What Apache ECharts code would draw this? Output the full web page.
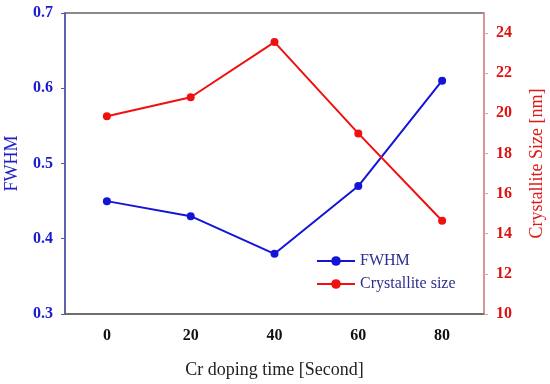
<!DOCTYPE html>
<html>
<head>
<meta charset="utf-8">
<script src="https://cdn.jsdelivr.net/npm/echarts@6/dist/echarts.min.js"></script>
<style>html,body{margin:0;padding:0;background:#fff}#c{width:550px;height:384px}</style>
</head>
<body>
<div id="c"></div>
<script>
var categories = ['0', '20', '40', '60', '80'];
var fwhm = [0.45, 0.43, 0.38, 0.47, 0.61];
var crystalliteSize = [19.85, 20.8, 23.55, 19.0, 14.65];
var leftTicks = [0.3, 0.7, 0.1];
var rightTicks = [10, 25, 2];

var serif = '"Liberation Serif", "DejaVu Serif", serif';
var chart = echarts.init(document.getElementById('c'), null, {renderer: 'canvas'});
chart.setOption({
  animation: false,
  backgroundColor: '#fff',
  grid: {left: 65, right: 66, top: 13, bottom: 70, show: true, borderColor: '#666', borderWidth: 1.5,
    backgroundColor: 'transparent', containLabel: false, outerBoundsMode: 'none'},
  legend: {
    orient: 'vertical', left: 311, top: 248, itemWidth: 38, itemHeight: 12, itemGap: 7,
    textStyle: {fontFamily: serif, fontSize: 16, color: '#2e2e90'},
    data: ['FWHM', 'Crystallite size']
  },
  xAxis: {
    type: 'category', data: categories, boundaryGap: true,
    name: 'Cr doping time [Second]', nameLocation: 'middle', nameGap: 47,
    nameTextStyle: {fontFamily: serif, fontSize: 18, color: '#222'},
    axisLine: {lineStyle: {color: '#666', width: 1.5}},
    axisTick: {alignWithLabel: true, length: 4, lineStyle: {color: '#666'}},
    axisLabel: {fontFamily: serif, fontSize: 16, fontWeight: 'bold', color: '#111', margin: 14},
    splitLine: {show: false}
  },
  yAxis: [{
    type: 'value', min: leftTicks[0], max: leftTicks[1], interval: leftTicks[2],
    name: 'FWHM', nameLocation: 'middle', nameGap: 44,
    nameTextStyle: {fontFamily: serif, fontSize: 18, color: '#2020c8'},
    axisLine: {show: true, lineStyle: {color: '#5555b5', width: 1.5}},
    axisTick: {show: true, length: 4, lineStyle: {color: '#5555b5'}},
    axisLabel: {fontFamily: serif, fontSize: 16, fontWeight: 'bold', color: '#1a1ad0', margin: 12,
      formatter: function (v) { return v.toFixed(1); }},
    splitLine: {show: false}
  }, {
    type: 'value', position: 'right', min: rightTicks[0], max: rightTicks[1], interval: rightTicks[2],
    name: 'Crystallite Size [nm]', nameLocation: 'middle', nameGap: 44,
    nameTextStyle: {fontFamily: serif, fontSize: 18, color: '#e01818'},
    axisLine: {show: true, lineStyle: {color: '#f09a9a', width: 1.5}},
    axisTick: {show: true, length: 4, lineStyle: {color: '#f09a9a'}},
    axisLabel: {fontFamily: serif, fontSize: 16, fontWeight: 'bold', color: '#e01010', margin: 12, showMaxLabel: false},
    splitLine: {show: false}
  }],
  series: [{
    name: 'FWHM', type: 'line', yAxisIndex: 0, data: fwhm,
    symbol: 'circle', symbolSize: 8,
    itemStyle: {color: '#1414d8'}, lineStyle: {color: '#1414d8', width: 2}
  }, {
    name: 'Crystallite size', type: 'line', yAxisIndex: 1, data: crystalliteSize,
    symbol: 'circle', symbolSize: 8,
    itemStyle: {color: '#f01010'}, lineStyle: {color: '#f01010', width: 2}
  }]
});
</script>
</body>
</html>
